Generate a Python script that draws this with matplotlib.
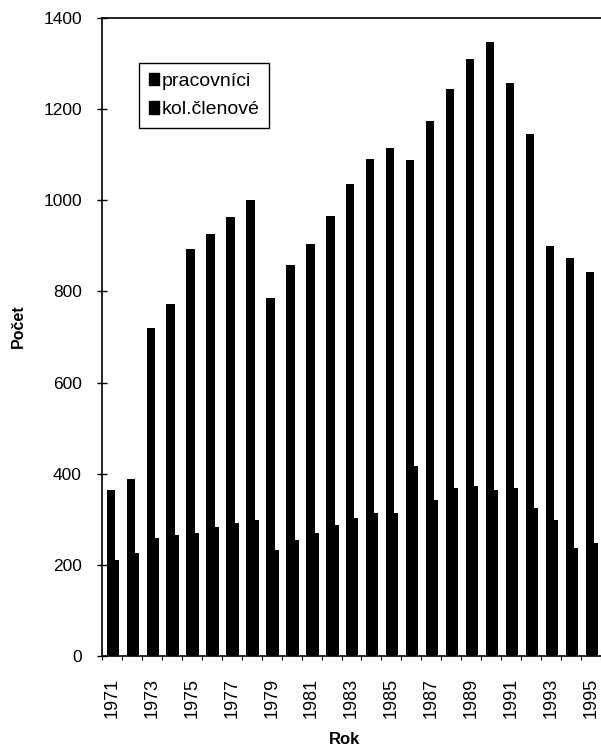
import matplotlib
matplotlib.use("Agg")
import matplotlib.pyplot as plt
from matplotlib.patches import Patch
import numpy as np

plt.rcParams['font.family'] = ['Liberation Sans', 'DejaVu Sans']

years = list(range(1971, 1996))
pracovnici = [364, 388, 719, 772, 893, 925, 963, 1001, 785, 858, 904, 966,
              1035, 1091, 1114, 1088, 1174, 1244, 1309, 1348, 1258, 1145, 900, 874, 842]
kol_clenove = [211, 227, 260, 265, 269, 284, 291, 298, 233, 255, 271, 287,
               302, 314, 314, 417, 342, 368, 372, 364, 368, 324, 298, 236, 249]
series_names = ["pracovníci", "kol.členové"]
x_labels = [str(y) for y in years]

fig = plt.figure(figsize=(6.01, 7.48), dpi=100)
ax = fig.add_axes([102/601, 1-656/748, 499/601, 638/748])

x = np.arange(len(years))
ax.bar(x - 0.27, pracovnici, width=0.42, align='edge', color='black', zorder=2)
ax.bar(x - 0.15, kol_clenove, width=0.50, align='edge', color='black', zorder=3)

ax.set_xlim(-0.5, len(years) - 0.5)
ax.set_ylim(0, 1400)
ax.set_yticks(range(0, 1401, 200))
ax.tick_params(axis='y', direction='inout', length=7, width=1, labelsize=12.5, pad=11)

ax.set_xticks(x[::2])
ax.set_xticklabels(x_labels[::2], rotation=90, fontsize=13)
ax.tick_params(axis='x', which='major', length=0, pad=16)
ax.set_xticks(np.arange(-0.5, len(years), 1), minor=True)
ax.tick_params(axis='x', which='minor', direction='out', length=3, width=0.8)

for s in ['left', 'bottom', 'top']:
    ax.spines[s].set_linewidth(1.2)
ax.spines['right'].set_visible(False)

fig.text(18/601, 1-326/748, "Počet", rotation=90, ha='center', va='center',
         fontsize=11.5, fontweight='bold')
fig.text(345/601, 1-739/748, "Rok", ha='center', va='center',
         fontsize=12, fontweight='bold')

handles = [Patch(facecolor='black', edgecolor='black'),
           Patch(facecolor='black', edgecolor='black')]
leg = ax.legend(handles, series_names, loc='upper left',
                bbox_to_anchor=((139-102)/499, (656-63)/638),
                borderaxespad=0, fontsize=14, handlelength=0.55, handleheight=0.6,
                handletextpad=0.1, fancybox=False, framealpha=1,
                edgecolor='black', borderpad=0.5, labelspacing=0.6)
leg.get_frame().set_linewidth(1.0)

fig.savefig("out.png", dpi=100, facecolor='white')
